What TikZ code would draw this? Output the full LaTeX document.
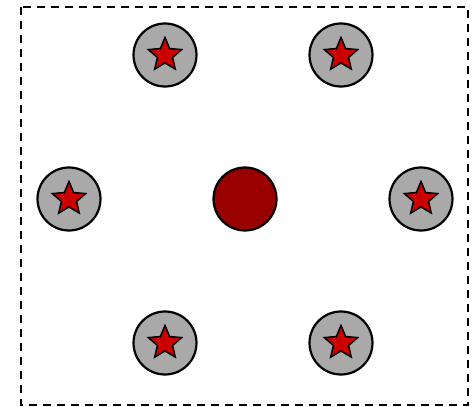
\documentclass[tikz,border=0pt]{standalone}
\usetikzlibrary{shapes.geometric}
\definecolor{ringgray}{HTML}{A9A9A9}
\definecolor{starred}{HTML}{CC0000}
\definecolor{hubred}{HTML}{990000}
\tikzset{
  unit/.style={circle, draw=black, line width=2.2pt, fill=ringgray, minimum size=63pt, inner sep=0pt},
  hub/.style={circle, draw=black, line width=2.2pt, fill=hubred, minimum size=63pt, inner sep=0pt},
  starmark/.style={star, star points=5, star point ratio=2.2, draw=black, line width=1.5pt, fill=starred, minimum size=35pt, inner sep=0pt},
  frame/.style={draw=black, line width=1.3pt, dash pattern=on 8pt off 6pt}
}
\begin{document}
\begin{tikzpicture}[x=1pt,y=-1pt]
\useasboundingbox (0,0) rectangle (475,407);
\draw[frame] (21,7) rectangle (468,405);
\node[hub] (c) at (245,199) {};
\foreach \n/\x/\y in {a/165/55, b/341/55, l/69/199, r/421/199, d/165/343, e/341/343}{
  \node[unit] (\n) at (\x,\y) {};
  \node[starmark] (\n s) at (\n) {};
}
\end{tikzpicture}
\end{document}
